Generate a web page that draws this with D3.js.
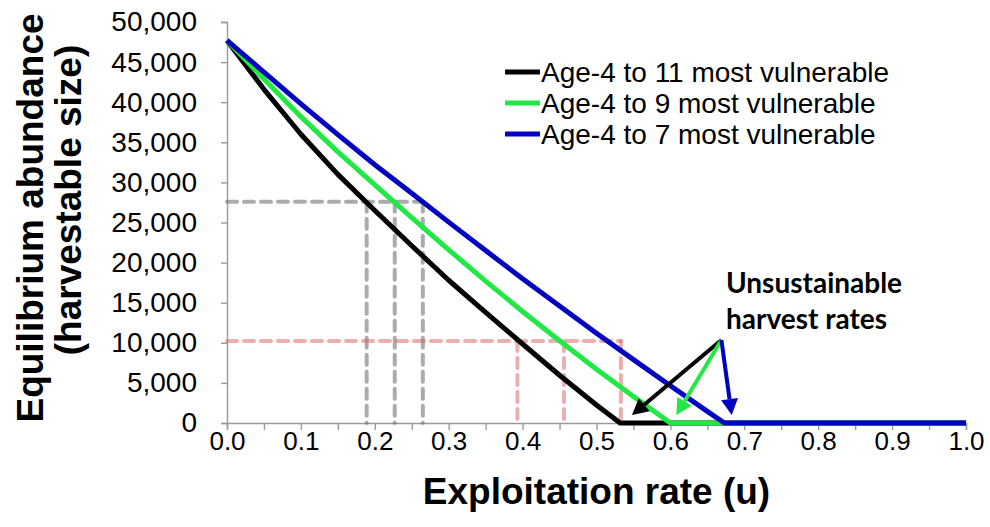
<!DOCTYPE html>
<html>
<head>
<meta charset="utf-8">
<script src="https://cdn.jsdelivr.net/npm/d3@7/dist/d3.min.js"></script>
<style>
  body { margin: 0; background: #fff; }
  svg { display: block; }
</style>
</head>
<body>
<svg id="chart" width="990" height="527"></svg>
<script>
// Equilibrium abundance vs. exploitation rate, for three vulnerability schedules
const seriesNames = [
  "Age-4 to 11 most vulnerable",
  "Age-4 to 9 most vulnerable",
  "Age-4 to 7 most vulnerable"
];
const seriesColors = ["#000000", "#22E845", "#0000C4"];

// exploitation rate (u) and equilibrium abundance for each schedule
const age11U = [0, 0.05, 0.10, 0.15, 0.20, 0.25, 0.30, 0.35, 0.40, 0.45, 0.50, 0.532, 1.0];
const age11N = [47700, 41600, 36000, 31000, 26500, 22100, 17800, 13800, 9850, 5950, 2250, 0, 0];

const age9U = [0, 0.05, 0.10, 0.15, 0.20, 0.25, 0.30, 0.35, 0.40, 0.45, 0.50, 0.55, 0.60, 1.0];
const age9N = [47700, 42900, 38200, 33800, 29700, 25600, 21600, 17700, 13900, 10250, 6700, 3300, 0, 0];

const age7U = [0, 0.05, 0.10, 0.15, 0.20, 0.25, 0.30, 0.35, 0.40, 0.45, 0.50, 0.55, 0.60, 0.65, 0.673, 1.0];
const age7N = [47700, 43750, 39800, 35950, 32200, 28650, 25050, 21500, 18000, 14600, 11200, 7900, 4650, 1450, 0, 0];

// reference levels: target abundance and the matching exploitation rates
const upperLevel = 27600;
const upperRates = [0.189, 0.227, 0.265];
const lowerLevel = 10220;
const lowerRates = [0.393, 0.456, 0.533];

// "Unsustainable harvest rates" callout: common origin and one tip per schedule
const calloutFrom = [0.669, 10350];
const calloutTipU = [0.548, 0.608, 0.683];
const calloutTipN = 1000;

const xTicks = d3.range(0, 21).map(i => i * 0.05);
const yTicks = d3.range(0, 11).map(i => i * 5000);

const svg = d3.select("#chart");
const x = d3.scaleLinear().domain([0, 1]).range([227, 966]);
const y = d3.scaleLinear().domain([0, 50000]).range([423, 22]);

const axisColor = "#9a9a9a";
const tickFont = "'Liberation Sans', Arial, sans-serif";

// y axis
const gy = svg.append("g")
  .attr("transform", `translate(${x(0)},0)`)
  .call(d3.axisLeft(y).tickValues(yTicks).tickSize(6).tickPadding(24)
    .tickFormat(d3.format(",")));
gy.select(".domain").attr("stroke", axisColor).attr("stroke-width", 1.4);
gy.selectAll(".tick line").attr("stroke", axisColor).attr("stroke-width", 1.4);
gy.selectAll(".tick text").attr("font-family", tickFont).attr("font-size", 28).attr("fill", "#000");

// x axis
const gx = svg.append("g")
  .attr("transform", `translate(0,${y(0)})`)
  .call(d3.axisBottom(x).tickValues(xTicks).tickSize(7).tickPadding(2)
    .tickFormat((d, i) => i % 2 ? "" : d3.format(".1f")(d)));
gx.select(".domain").attr("stroke", axisColor).attr("stroke-width", 1.4);
gx.selectAll(".tick line").attr("stroke", axisColor).attr("stroke-width", 1.4);
gx.selectAll(".tick text").attr("font-family", tickFont).attr("font-size", 26).attr("fill", "#000");

// dashed reference lines
function refLines(level, rates, color) {
  const g = svg.append("g")
    .attr("fill", "none").attr("stroke", color).attr("stroke-width", 4)
    .attr("stroke-dasharray", "10,7").attr("stroke-linecap", "round");
  g.append("line")
    .attr("x1", x(0)).attr("x2", x(d3.max(rates)))
    .attr("y1", y(level)).attr("y2", y(level));
  g.selectAll("line.v").data(rates).join("line").attr("class", "v")
    .attr("x1", d => x(d)).attr("x2", d => x(d))
    .attr("y1", y(level)).attr("y2", y(0));
}
refLines(upperLevel, upperRates, "rgba(115,115,115,0.6)");
refLines(lowerLevel, lowerRates, "rgba(215,95,95,0.5)");

// curves
const line = d3.line().x(d => x(d[0])).y(d => y(d[1]));
const series = [
  d3.zip(age11U, age11N),
  d3.zip(age9U, age9N),
  d3.zip(age7U, age7N)
];
svg.append("g").selectAll("path").data(series).join("path")
  .attr("d", line)
  .attr("fill", "none")
  .attr("stroke", (d, i) => seriesColors[i])
  .attr("stroke-width", 5)
  .attr("stroke-linejoin", "round");

// callout arrows
const fx = x(calloutFrom[0]), fy = y(calloutFrom[1]);
const arrows = svg.append("g");
calloutTipU.forEach((u, i) => {
  const tx = x(u), ty = y(calloutTipN);
  const ang = Math.atan2(ty - fy, tx - fx);
  const headLen = 16, headHalf = 8.5;
  const bx = tx - headLen * Math.cos(ang), by = ty - headLen * Math.sin(ang);
  arrows.append("line")
    .attr("x1", fx).attr("y1", fy).attr("x2", bx).attr("y2", by)
    .attr("stroke", seriesColors[i]).attr("stroke-width", 4);
  const px = -Math.sin(ang), py = Math.cos(ang);
  arrows.append("path")
    .attr("d", `M${tx},${ty}L${bx + headHalf * px},${by + headHalf * py}L${bx - headHalf * px},${by - headHalf * py}Z`)
    .attr("fill", seriesColors[i]);
});

// callout label
const callout = svg.append("text")
  .attr("font-family", "Lato, 'Open Sans', sans-serif")
  .attr("font-weight", "bold").attr("font-size", 28).attr("fill", "#000");
callout.append("tspan").attr("x", 726).attr("y", 293).text("Unsustainable");
callout.append("tspan").attr("x", 726).attr("y", 329).text("harvest rates");

// legend
const legend = svg.append("g").attr("transform", "translate(505,72)");
const rows = legend.selectAll("g").data(seriesNames).join("g")
  .attr("transform", (d, i) => `translate(0,${i * 31})`);
rows.append("line").attr("x1", 0).attr("x2", 35).attr("y1", 0).attr("y2", 0)
  .attr("stroke", (d, i) => seriesColors[i]).attr("stroke-width", 5);
rows.append("text").attr("x", 36).attr("dy", "0.35em")
  .attr("font-family", tickFont).attr("font-size", 28).attr("fill", "#000")
  .text(d => d);

// axis titles
const titleFont = "'Liberation Sans', Arial, sans-serif";
svg.append("text")
  .attr("x", (x(0) + x(1)) / 2).attr("y", 504)
  .attr("text-anchor", "middle")
  .attr("font-family", titleFont).attr("font-weight", "bold").attr("font-size", 37)
  .text("Exploitation rate (u)");
svg.append("text")
  .attr("transform", "translate(30,218) rotate(-90)")
  .attr("text-anchor", "middle").attr("dy", "0.35em")
  .attr("font-family", titleFont).attr("font-weight", "bold").attr("font-size", 37)
  .text("Equilibrium abundance");
svg.append("text")
  .attr("transform", "translate(68,200) rotate(-90)")
  .attr("text-anchor", "middle").attr("dy", "0.35em")
  .attr("font-family", titleFont).attr("font-weight", "bold").attr("font-size", 37)
  .text("(harvestable size)");
</script>
</body>
</html>
